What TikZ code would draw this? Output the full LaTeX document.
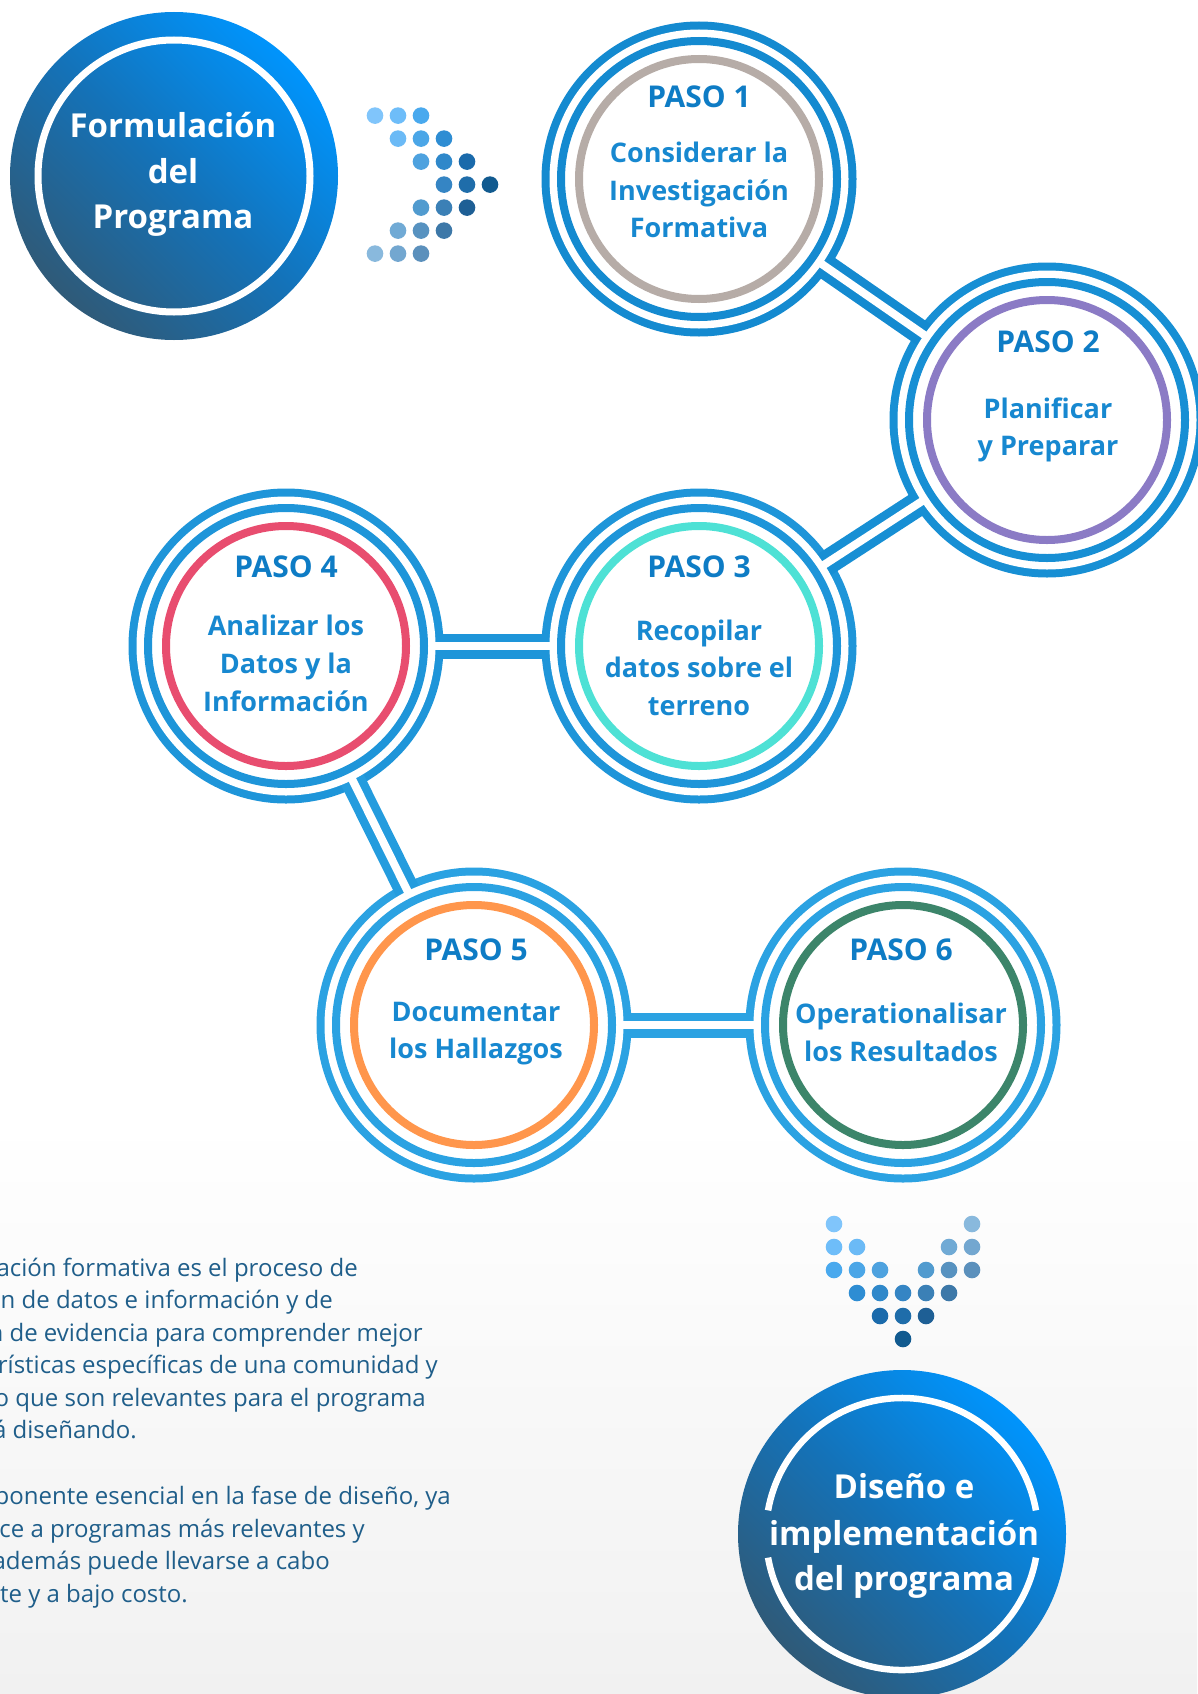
\documentclass[tikz,border=0pt]{standalone}
\usepackage{fontspec}
\setmainfont{Open Sans}
\usetikzlibrary{calc}
\definecolor{bgbot}{HTML}{F1F1F1}
\definecolor{blueA}{HTML}{148AD0}
\definecolor{blueB}{HTML}{178FD4}
\definecolor{blueC}{HTML}{1E95D9}
\definecolor{blueD}{HTML}{2BA2E2}
\definecolor{titleblue}{HTML}{0E7CC5}
\definecolor{bodyblue}{HTML}{1788D0}
\definecolor{ringgray}{HTML}{B6ACA7}
\definecolor{ringpurple}{HTML}{8B7BC5}
\definecolor{ringturq}{HTML}{4EE1D5}
\definecolor{ringpink}{HTML}{E84D6F}
\definecolor{ringorange}{HTML}{FF964C}
\definecolor{ringgreen}{HTML}{3C856A}
\definecolor{gradTop}{HTML}{0094FC}
\definecolor{gradMid}{HTML}{1472B8}
\definecolor{gradBot}{HTML}{2F5A78}
\definecolor{paratext}{HTML}{1F5E8A}
\pgfdeclarelayer{bg}
\pgfdeclarelayer{lA}
\pgfdeclarelayer{lB}
\pgfsetlayers{bg,lA,lB,main}
\tikzset{
  stepring/.style={circle, line width=8pt, minimum size=240pt, inner sep=0pt, fill=white},
  connband/.style={line width=25pt},
  conngap/.style={white, line width=8pt},
  ptitle/.style={font=\fontsize{30}{36}\selectfont\bfseries, text=titleblue, anchor=base, inner sep=0pt},
  pbody/.style={font=\fontsize{27}{33}\selectfont\bfseries, text=bodyblue, anchor=base, inner sep=0pt},
  bigdisc/.style={circle, minimum size=328pt, inner sep=0pt, top color=gradTop, bottom color=gradBot, middle color=gradMid, shading angle=-45},
  bigtext/.style={font=\fontsize{33}{40}\selectfont\bfseries, text=white, anchor=base, inner sep=0pt},
  paraline/.style={font=\fontsize{24}{33}\selectfont, text=paratext, anchor=base east, inner sep=0pt}
}
\begin{document}
\begin{tikzpicture}[x=1pt,y=-1pt]
\useasboundingbox (0,0) rectangle (1197,1694);
\begin{pgfonlayer}{bg}
  \fill[white] (0,0) rectangle (1197,1694);
  \shade[top color=white, bottom color=bgbot] (0,1120) rectangle (1197,1694);
\end{pgfonlayer}

% ---------- step circles ----------
\node[stepring, draw=ringgray]   (p1) at (699,179)  {};
\node[stepring, draw=ringpurple] (p2) at (1047,420) {};
\node[stepring, draw=ringturq]   (p3) at (699,646)  {};
\node[stepring, draw=ringpink]   (p4) at (286,646)  {};
\node[stepring, draw=ringorange] (p5) at (474,1025) {};
\node[stepring, draw=ringgreen]  (p6) at (903,1025) {};

\begin{pgfonlayer}{lA}
  \foreach \n/\c in {p1/blueA, p2/blueB, p3/blueC, p4/blueC, p5/blueD, p6/blueD}
    \fill[\c] (\n.center) circle (157.5pt);
  \draw[connband, blueA] (p1.center) -- (p2.center);
  \draw[connband, blueB] (p2.center) -- (p3.center);
  \draw[connband, blueC] (p3.center) -- (p4.center);
  \draw[connband, blueC!50!blueD] (p4.center) -- (p5.center);
  \draw[connband, blueD] (p5.center) -- (p6.center);
\end{pgfonlayer}
\begin{pgfonlayer}{lB}
  \foreach \n in {p1,p2,p3,p4,p5,p6}
    \fill[white] (\n.center) circle (149.5pt);
  \draw[conngap] (p1.center) -- (p2.center);
  \draw[conngap] (p2.center) -- (p3.center);
  \draw[conngap] (p3.center) -- (p4.center);
  \draw[conngap] (p4.center) -- (p5.center);
  \draw[conngap] (p5.center) -- (p6.center);
  \foreach \n/\c in {p1/blueA, p2/blueB, p3/blueC, p4/blueC, p5/blueD, p6/blueD}
    \draw[\c, line width=8pt, fill=white] (\n.center) circle (138pt);
\end{pgfonlayer}

% ---------- step texts ----------
\node[ptitle] (t1) at (699,107) {PASO 1};
\node[pbody] (b1a) at (699,162) {Considerar la};
\node[pbody] (b1b) at (699,200) {Investigación};
\node[pbody] (b1c) at (699,237) {Formativa};

\node[ptitle] (t2) at (1048,352) {PASO 2};
\node[pbody] (b2a) at (1048,418) {Planificar};
\node[pbody] (b2b) at (1048,455) {y Preparar};

\node[ptitle] (t3) at (699,577) {PASO 3};
\node[pbody] (b3a) at (699,640) {Recopilar};
\node[pbody] (b3b) at (699,677) {datos sobre el};
\node[pbody] (b3c) at (699,715) {terreno};

\node[ptitle] (t4) at (286,577) {PASO 4};
\node[pbody] (b4a) at (286,635) {Analizar los};
\node[pbody] (b4b) at (286,673) {Datos y la};
\node[pbody] (b4c) at (286,711) {Información};

\node[ptitle] (t5) at (476,960) {PASO 5};
\node[pbody] (b5a) at (476,1021) {Documentar};
\node[pbody] (b5b) at (476,1058) {los Hallazgos};

\node[ptitle] (t6) at (901,960) {PASO 6};
\node[pbody] (b6a) at (901,1023) {Operationalisar};
\node[pbody] (b6b) at (901,1061) {los Resultados};

% ---------- big gradient circles ----------
\node[bigdisc] (f) at (174,176) {};
\draw[white, line width=7pt] (f.center) circle (136pt);
\node[bigtext] (fa) at (173,137) {Formulación};
\node[bigtext] (fb) at (173,183) {del};
\node[bigtext] (fc) at (173,228) {Programa};

\node[bigdisc] (d) at (902,1534) {};
\draw[white, line width=6.5pt] (d.center) ++(10:136pt) arc[start angle=10, end angle=170, radius=136pt];
\draw[white, line width=6.5pt] (d.center) ++(190:136pt) arc[start angle=190, end angle=350, radius=136pt];
\node[bigtext] (da) at (904,1498) {Diseño e};
\node[bigtext] (db) at (904,1545) {implementación};
\node[bigtext] (dc) at (904,1590) {del programa};

% ---------- dotted arrows ----------
\foreach \j/\i/\col in {0/0/80C5FB, 0/1/6EBDF9, 0/2/49A9EE,
  1/1/6BBAF6, 1/2/4BA6E7, 1/3/2E8DD3,
  2/2/4EA2DF, 2/3/2F88CA, 2/4/1A6AAB,
  3/3/3585C4, 3/4/1F6DAA, 3/5/115A8F,
  4/2/519BCF, 4/3/3B80B6, 4/4/1E5F95,
  5/1/70AAD5, 5/2/5792C0, 5/3/3D78A8,
  6/0/89B9DD, 6/1/73A7D0, 6/2/5B90BC}{
  \definecolor{dotc}{HTML}{\col}
  \fill[dotc] (375+23*\i, 115.6+23*\j) circle (8.3pt);
  \fill[dotc] (834+23*\j, 1224+23*\i) circle (8.3pt);
}

% ---------- paragraph (cut at the left edge) ----------
\node[paraline] (l1) at (358,1276) {ación formativa es el proceso de};
\node[paraline] (l2) at (333,1308) {n de datos e información y de};
\node[paraline] (l3) at (423,1341) {n de evidencia para comprender mejor};
\node[paraline] (l4) at (438,1373) {rísticas específicas de una comunidad y};
\node[paraline] (l5) at (426,1406) {o que son relevantes para el programa};
\node[paraline] (l6) at (137,1438) {á diseñando.};
\node[paraline] (l7) at (451,1504) {ponente esencial en la fase de diseño, ya};
\node[paraline] (l8) at (365,1537) {ce a programas más relevantes y};
\node[paraline] (l9) at (330,1569) {además puede llevarse a cabo};
\node[paraline] (l10) at (188,1602) {nte y a bajo costo.};
\end{tikzpicture}
\end{document}
